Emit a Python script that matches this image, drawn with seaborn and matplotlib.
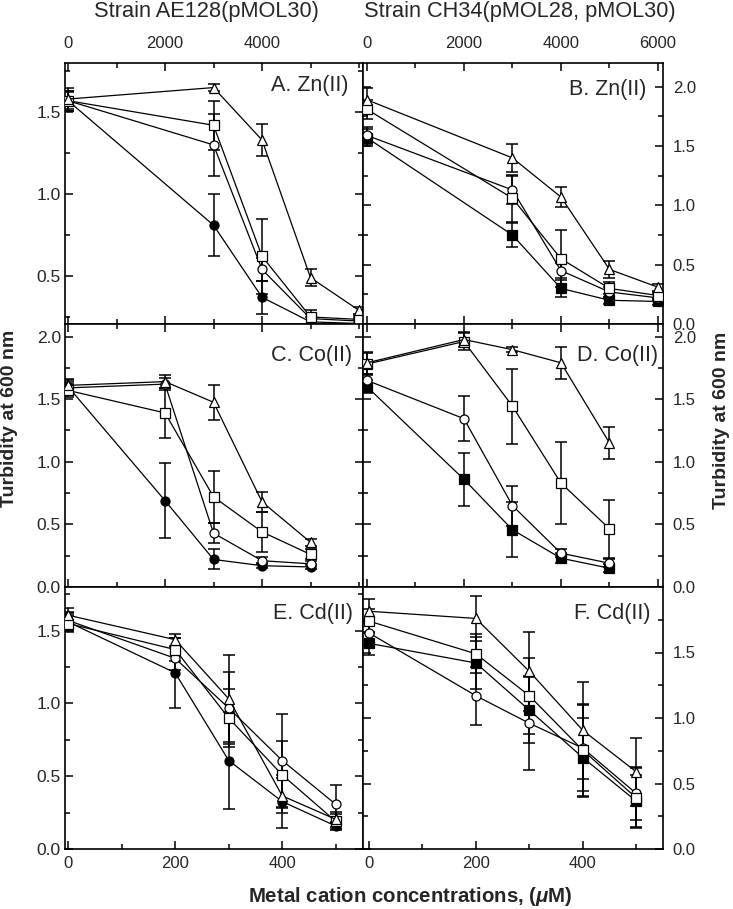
import numpy as np
import pandas as pd
import seaborn as sns
import matplotlib.pyplot as plt
from matplotlib.ticker import MultipleLocator, FixedLocator

sns.set_style('ticks')
plt.rcParams['font.family'] = ['Liberation Sans', 'DejaVu Sans']
plt.rcParams['mathtext.fontset'] = 'custom'
plt.rcParams['mathtext.rm'] = 'Liberation Sans:bold'
plt.rcParams['mathtext.it'] = 'Liberation Sans:bold:italic'

# concentrations (uM)
zn_conc = [0, 3000, 4000, 5000, 6000]
co_conc = [0, 2000, 3000, 4000, 5000]
cd_conc = [0, 200, 300, 400, 500]

series = ['filled', 'circle', 'square', 'triangle']

# A. Zn(II), strain AE128
a_vals = {'filled': [1.57, 0.81, 0.37, 0.22, 0.21],
          'circle': [1.57, 1.30, 0.54, 0.24, 0.225],
          'square': [1.57, 1.42, 0.62, 0.25, 0.235],
          'triangle': [1.58, 1.65, 1.33, 0.49, 0.29]}
a_errs = {'filled': [0.05, 0.19, 0.10, 0.03, 0.02],
          'circle': [0.06, 0.19, 0.07, 0.03, 0.02],
          'square': [0.06, 0.15, 0.23, 0.04, 0.02],
          'triangle': [0.07, 0.02, 0.10, 0.05, 0.02]}

# B. Zn(II), strain CH34
b_vals = {'filled': [1.57, 0.75, 0.30, 0.20, 0.19],
          'circle': [1.59, 1.13, 0.45, 0.27, 0.22],
          'square': [1.81, 1.06, 0.55, 0.30, 0.24],
          'triangle': [1.89, 1.40, 1.07, 0.46, 0.31]}
b_errs = {'filled': [0.07, 0.10, 0.07, 0.03, 0.03],
          'circle': [0.07, 0.12, 0.06, 0.04, 0.03],
          'square': [0.08, 0.20, 0.24, 0.05, 0.03],
          'triangle': [0.10, 0.12, 0.085, 0.07, 0.03]}

# C. Co(II), strain AE128
c_vals = {'filled': [1.60, 0.69, 0.22, 0.17, 0.16],
          'circle': [1.59, 1.62, 0.43, 0.21, 0.185],
          'square': [1.57, 1.39, 0.72, 0.44, 0.26],
          'triangle': [1.61, 1.64, 1.475, 0.68, 0.357]}
c_errs = {'filled': [0.05, 0.30, 0.08, 0.02, 0.02],
          'circle': [0.05, 0.05, 0.08, 0.03, 0.02],
          'square': [0.05, 0.20, 0.21, 0.16, 0.04],
          'triangle': [0.05, 0.05, 0.14, 0.08, 0.03]}

# D. Co(II), strain CH34
d_vals = {'filled': [1.60, 0.86, 0.457, 0.23, 0.15],
          'circle': [1.65, 1.344, 0.65, 0.27, 0.19],
          'square': [1.78, 1.96, 1.444, 0.83, 0.465],
          'triangle': [1.79, 1.976, 1.895, 1.79, 1.15]}
d_errs = {'filled': [0.05, 0.21, 0.22, 0.04, 0.03],
          'circle': [0.05, 0.18, 0.16, 0.03, 0.03],
          'square': [0.09, 0.07, 0.30, 0.33, 0.23],
          'triangle': [0.09, 0.06, 0.02, 0.13, 0.13]}

# E. Cd(II), strain AE128
e_vals = {'filled': [1.56, 1.21, 0.608, 0.326, 0.158],
          'circle': [1.57, 1.31, 0.968, 0.608, 0.307],
          'square': [1.549, 1.37, 0.90, 0.509, 0.19],
          'triangle': [1.606, 1.438, 1.032, 0.365, 0.204]}
e_errs = {'filled': [0.06, 0.24, 0.33, 0.18, 0.03],
          'circle': [0.06, 0.08, 0.25, 0.32, 0.13],
          'square': [0.06, 0.08, 0.20, 0.23, 0.05],
          'triangle': [0.05, 0.04, 0.30, 0.12, 0.05]}

# F. Cd(II), strain CH34
f_vals = {'filled': [1.57, 1.42, 1.06, 0.698, 0.365],
          'circle': [1.65, 1.17, 0.96, 0.77, 0.424],
          'square': [1.74, 1.49, 1.17, 0.754, 0.39],
          'triangle': [1.815, 1.76, 1.356, 0.906, 0.589]}
f_errs = {'filled': [0.09, 0.20, 0.25, 0.30, 0.20],
          'circle': [0.09, 0.22, 0.36, 0.33, 0.20],
          'square': [0.09, 0.15, 0.29, 0.35, 0.23],
          'triangle': [0.09, 0.17, 0.30, 0.37, 0.26]}


def draw(ax, conc, vals, errs, filled_marker):
    markers = {'filled': filled_marker, 'circle': 'o', 'square': 's', 'triangle': '^'}
    for s in series:
        fc = 'black' if s == 'filled' else 'white'
        ax.errorbar(conc, vals[s], yerr=errs[s], fmt='none', ecolor='black',
                    elinewidth=1.1, capsize=4, capthick=1.1, zorder=2)
        sns.lineplot(x=conc, y=vals[s], ax=ax, color='black', linewidth=0.9,
                     marker=markers[s], markersize=6.5, markerfacecolor=fc,
                     markeredgecolor='black', markeredgewidth=0.9, zorder=3)


fig = plt.figure(figsize=(7.33, 9.09), dpi=100)
W, H = 733, 909


def make_ax(x0, x1, ytop, ybot):
    return fig.add_axes([x0 / W, 1 - ybot / H, (x1 - x0) / W, (ybot - ytop) / H])


ax_a = make_ax(65, 363, 63, 324)
ax_b = make_ax(363, 663, 63, 324)
ax_c = make_ax(65, 363, 324, 587)
ax_d = make_ax(363, 663, 324, 587)
ax_e = make_ax(65, 363, 587, 849)
ax_f = make_ax(363, 663, 587, 849)

draw(ax_a, zn_conc, a_vals, a_errs, 'o')
draw(ax_b, zn_conc, b_vals, b_errs, 's')
draw(ax_c, co_conc, c_vals, c_errs, 'o')
draw(ax_d, co_conc, d_vals, d_errs, 's')
draw(ax_e, cd_conc, e_vals, e_errs, 'o')
draw(ax_f, cd_conc, f_vals, f_errs, 's')

# limits
ax_a.set_xlim(-62, 6082)
ax_c.set_xlim(-62, 6082)
ax_b.set_xlim(-80, 6103)
ax_d.set_xlim(-80, 6103)
ax_e.set_xlim(-6, 551)
ax_f.set_xlim(-11, 550)

ax_a.set_ylim(0.207, 1.80)
ax_b.set_ylim(0, 2.2)
ax_c.set_ylim(0, 2.1)
ax_d.set_ylim(0, 2.1)
ax_e.set_ylim(0, 1.8)
ax_f.set_ylim(0, 2.0)

for ax in [ax_a, ax_b, ax_c, ax_d, ax_e, ax_f]:
    for side in ax.spines.values():
        side.set_linewidth(1.2)
        side.set_color('black')
    ax.set_xlabel('')
    ax.set_ylabel('')
    ax.tick_params(which='both', direction='in', top=True, bottom=True,
                   left=True, right=True, labelleft=False, labelright=False,
                   labeltop=False, labelbottom=False, width=1.1, color='black',
                   labelsize=12)
    ax.tick_params(which='major', length=6)
    ax.tick_params(which='minor', length=3.5)
    ax.yaxis.set_major_locator(MultipleLocator(0.5))
    ax.yaxis.set_minor_locator(MultipleLocator(0.25))

for ax in [ax_a, ax_c]:
    ax.xaxis.set_major_locator(FixedLocator([0, 2000, 4000]))
    ax.xaxis.set_minor_locator(FixedLocator([1000, 3000, 5000, 6000]))
for ax in [ax_b, ax_d]:
    ax.xaxis.set_major_locator(MultipleLocator(2000))
    ax.xaxis.set_minor_locator(MultipleLocator(1000))
for ax in [ax_e, ax_f]:
    ax.xaxis.set_major_locator(MultipleLocator(200))
    ax.xaxis.set_minor_locator(MultipleLocator(100))
    ax.tick_params(which='both', top=False)
ax_f.yaxis.set_major_locator(FixedLocator([0, 0.5, 1.0, 1.5]))
ax_f.yaxis.set_minor_locator(FixedLocator([0.25, 0.75, 1.25, 1.75]))

for ax in [ax_a, ax_c, ax_e]:
    ax.tick_params(axis='y', labelleft=True, pad=3, labelsize=12.5)
for ax in [ax_b, ax_d, ax_f]:
    ax.tick_params(axis='y', labelright=True, pad=7)
for ax in [ax_a, ax_b]:
    ax.tick_params(axis='x', labeltop=True, pad=9)
for ax in [ax_e, ax_f]:
    ax.tick_params(axis='x', labelbottom=True, pad=5)

for ax in [ax_a, ax_b, ax_c, ax_d, ax_e, ax_f]:
    ax.yaxis.set_major_formatter('{x:.1f}')

panel_labels = [(ax_a, 'A. Zn(II)', 0.953, 0.912), (ax_b, 'B. Zn(II)', 0.943, 0.90),
                (ax_c, 'C. Co(II)', 0.963, 0.882), (ax_d, 'D. Co(II)', 0.983, 0.882),
                (ax_e, 'E. Cd(II)', 0.966, 0.897), (ax_f, 'F. Cd(II)', 0.957, 0.90)]
for ax, txt, px, py in panel_labels:
    ax.text(px, py, txt, transform=ax.transAxes, ha='right', va='center', fontsize=15.5)

fig.text(206 / W, 1 - 12 / H, 'Strain AE128(pMOL30)', ha='center', va='center', fontsize=15.7)
fig.text(520 / W, 1 - 12 / H, 'Strain CH34(pMOL28, pMOL30)', ha='center', va='center', fontsize=15.7)
fig.text(10 / W, 1 - 418 / H, 'Turbidity at 600 nm', rotation=90, ha='center', va='center',
         fontsize=14, fontweight='bold')
fig.text(721 / W, 1 - 420 / H, 'Turbidity at 600 nm', rotation=90, ha='center', va='center',
         fontsize=14, fontweight='bold')
fig.text(410 / W, 1 - 896 / H, r'Metal cation concentrations, ($\mu$M)', ha='center', va='center',
         fontsize=14.7, fontweight='bold')

fig.savefig('out.png', dpi=100)
